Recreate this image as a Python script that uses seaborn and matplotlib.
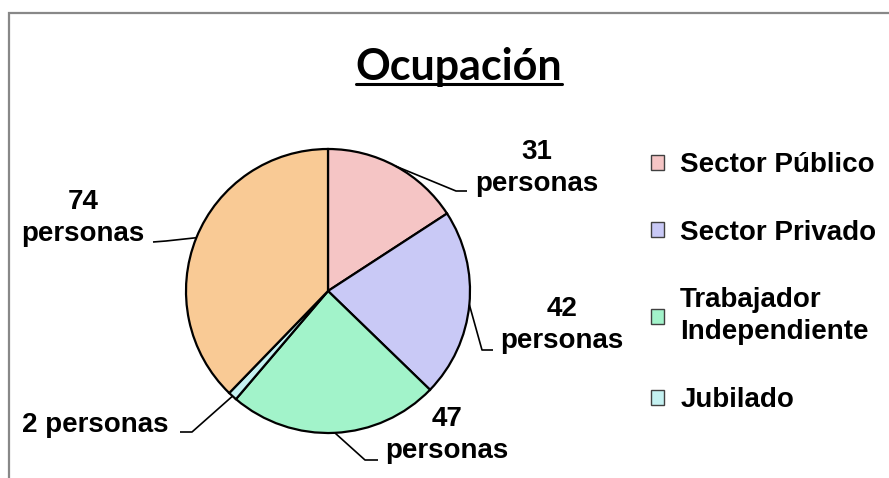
import matplotlib
matplotlib.use("Agg")
import matplotlib.pyplot as plt
import matplotlib.patches as mpatches
from matplotlib.lines import Line2D
import numpy as np
import seaborn as sns

# ---- data ----
categories = ["Sector Público", "Sector Privado", "Trabajador\nIndependiente", "Jubilado", "Otro"]
values = [31, 42, 47, 2, 74]
value_labels = ["31\npersonas", "42\npersonas", "47\npersonas", "2 personas", "74\npersonas"]
legend_count = 4
title = "Ocupación"
colors = ["#F5C5C5", "#C9C9F6", "#A2F3CA", "#C4F1F1", "#F9CA95"]

sns.set_theme(style="white")
plt.rcParams["font.family"] = ["Liberation Sans", "DejaVu Sans"]
plt.rcParams["text.color"] = "black"

W, H = 889, 478
CX, CY, R = 328, 291, 142

fig = plt.figure(figsize=(W / 100, H / 100), dpi=100)
ax = fig.add_axes([0, 0, 1, 1])

def px(x, y):
    return ((x - CX) / R, (CY - y) / R)

wedges, _ = ax.pie(values, startangle=90, counterclock=False, colors=colors,
                   radius=1, center=(0, 0),
                   wedgeprops=dict(edgecolor="black", linewidth=1.6))
ax.set_xlim(-CX / R, (W - CX) / R)
ax.set_ylim((CY - H) / R, CY / R)
ax.set_aspect("equal")
ax.axis("off")

# ---- data labels with leader lines ----
# (text x, text y, ha, elbow px, end px)
label_layout = [
    (537, 168, "center", (456, 191), (467, 191)),
    (562, 325, "center", (482, 350), (493, 350)),
    (447, 435, "center", (365, 460), (378, 460)),
    (95, 425, "center", (192, 432), (180, 432)),
    (83, 218, "center", (166, 241), (153, 242)),
]
total = sum(values)
cum = 0
for v, lab, (tx, ty, ha, elbow, end) in zip(values, value_labels, label_layout):
    mid = (cum + v / 2) / total * 2 * np.pi
    cum += v
    ex, ey = np.sin(mid), np.cos(mid)
    bx, by = px(*elbow)
    dx, dy = px(*end)
    ax.plot([ex, bx, dx], [ey, by, dy], color="black", lw=1.2, solid_capstyle="butt")
    x, y = px(tx, ty)
    ax.text(x, y, lab, ha=ha, va="center", fontsize=20, fontweight="bold",
            family=["Liberation Sans", "DejaVu Sans"],
            linespacing=1.32, color="black")

# ---- legend ----
handles = [mpatches.Patch(facecolor=c, edgecolor="#404040", linewidth=1.0)
           for c in colors[:legend_count]]
leg = fig.legend(handles, categories[:legend_count], loc="upper left",
                 bbox_to_anchor=(651 / W, 1 - 152 / H), frameon=False,
                 prop=dict(size=20, weight="bold", family=["Liberation Sans", "DejaVu Sans"]),
                 handlelength=0.45, handleheight=0.45,
                 handletextpad=0.6, labelspacing=1.5, borderaxespad=0, borderpad=0)
for txt in leg.get_texts():
    txt.set_linespacing(1.3)
    txt.set_color("black")

# ---- title with underline ----
t = fig.text(459 / W, 1 - 80 / H, title, ha="center", va="baseline", fontsize=31,
             fontweight="bold", family=["Lato", "DejaVu Sans"], color="black")
fig.canvas.draw()
bb = t.get_window_extent()
fig.add_artist(Line2D([bb.x0 / W, bb.x1 / W], [1 - 84 / H, 1 - 84 / H],
                      color="black", lw=2.2, transform=fig.transFigure))

# ---- chart frame (extends beyond the crop) ----
fig.add_artist(mpatches.Rectangle((9 / W, -0.1), 1.2, 1 - 13 / H + 0.1,
                                  transform=fig.transFigure, fill=False,
                                  edgecolor="#888888", linewidth=1.6))

fig.savefig("out.png", dpi=100)
